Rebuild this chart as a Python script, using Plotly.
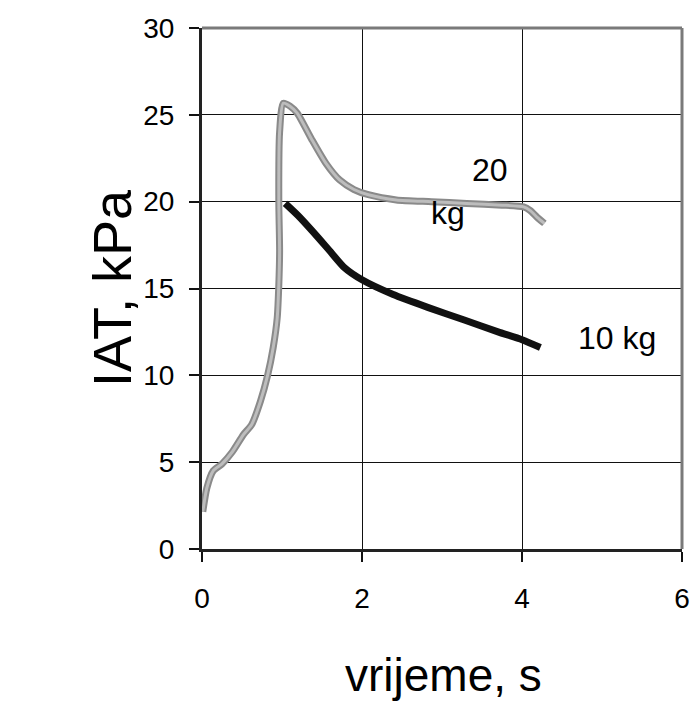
import plotly.graph_objects as go

# IAT pressure over time for two loads
t_20kg = [0.01, 0.06, 0.14, 0.25, 0.38, 0.52, 0.62, 0.73, 0.82, 0.89, 0.94, 0.96, 0.97,
          0.96, 0.97, 1.015, 1.10, 1.19, 1.37, 1.55, 1.72, 1.90, 2.08, 2.43, 2.87,
          3.31, 3.75, 4.02, 4.10, 4.19, 4.28]
p_20kg = [2.15, 3.5, 4.5, 4.9, 5.6, 6.6, 7.15, 8.5, 10.0, 11.6, 13.3, 15.2, 17.2,
          20.0, 24.0, 25.67, 25.5, 25.1, 23.6, 22.2, 21.25, 20.7, 20.4, 20.1, 20.0,
          19.9, 19.8, 19.7, 19.5, 19.1, 18.75]

t_10kg = [1.04, 1.20, 1.40, 1.59, 1.78, 2.00, 2.39, 2.83, 3.27, 3.70, 4.00, 4.23]
p_10kg = [19.9, 19.2, 18.2, 17.2, 16.2, 15.5, 14.65, 13.9, 13.2, 12.5, 12.05, 11.6]

x_ticks = [0, 2, 4, 6]
y_ticks = [0, 5, 10, 15, 20, 25, 30]

# label text and the point each label sits at
labels = [("20", 3.6, 21.8), ("kg", 3.075, 19.35), ("10 kg", 5.19, 12.15)]

FONT = "Liberation Sans, Arial, sans-serif"

fig = go.Figure()
# 20 kg curve: darker edge with a lighter core for a halftone grey look
fig.add_trace(go.Scatter(x=t_20kg, y=p_20kg, mode="lines",
                         line=dict(color="#8a8a8a", width=7, shape="spline", smoothing=0.6),
                         hoverinfo="skip", showlegend=False))
fig.add_trace(go.Scatter(x=t_20kg, y=p_20kg, mode="lines",
                         line=dict(color="#bdbdbd", width=3, shape="spline", smoothing=0.6),
                         name="20 kg", showlegend=False))
fig.add_trace(go.Scatter(x=t_10kg, y=p_10kg, mode="lines",
                         line=dict(color="#111111", width=7, shape="spline", smoothing=0.6),
                         name="10 kg", showlegend=False))

for text, lx, ly in labels:
    fig.add_annotation(x=lx, y=ly, text=text, showarrow=False,
                       font=dict(family=FONT, size=32, color="#000000"))

# axis titles
fig.add_annotation(xref="paper", yref="paper", x=0.504, y=-0.242, text="vrijeme, s",
                   showarrow=False, xanchor="center", yanchor="middle",
                   font=dict(family=FONT, size=46, color="#000000"))
fig.add_annotation(xref="paper", yref="paper", x=-0.1875, y=0.501, text="IAT, kPa",
                   showarrow=False, textangle=-90, xanchor="center", yanchor="middle",
                   font=dict(family=FONT, size=54, color="#000000"))

# grey top and right frame edges
fig.add_shape(type="line", xref="paper", yref="paper", x0=0, y0=1, x1=1, y1=1,
              line=dict(color="#7a7a7a", width=3))
fig.add_shape(type="line", xref="paper", yref="paper", x0=1, y0=0, x1=1, y1=1,
              line=dict(color="#7a7a7a", width=3))

axis_common = dict(showgrid=True, gridcolor="#111111", gridwidth=1.2,
                   zeroline=False, showline=True, linecolor="#222222", linewidth=3,
                   ticks="outside", ticklen=10, tickwidth=1.5, tickcolor="#111111",
                   tickfont=dict(family=FONT, size=28, color="#000000"))

fig.update_xaxes(range=[0, 6], tickvals=x_ticks, ticklabelstandoff=12, **axis_common)
fig.update_yaxes(range=[0, 30], tickvals=y_ticks, ticklabelstandoff=9, **axis_common)

fig.update_layout(width=698, height=718,
                  margin=dict(l=202, r=16, t=28, b=169, autoexpand=False),
                  paper_bgcolor="white", plot_bgcolor="white")

fig.write_html("out.html")
